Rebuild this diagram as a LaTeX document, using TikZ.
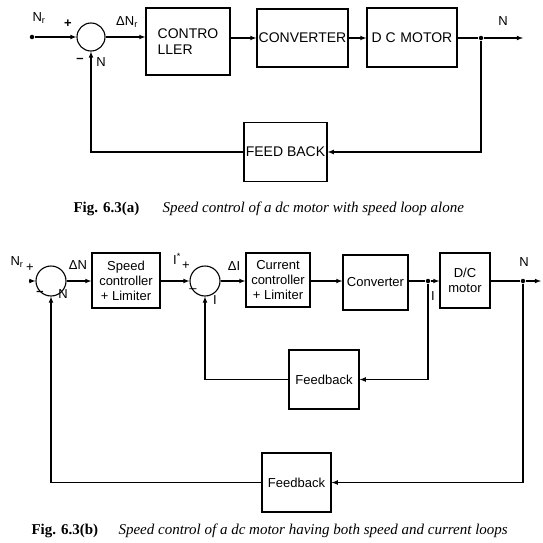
\documentclass[tikz,border=0pt]{standalone}
\usepackage{fontspec}
\setmainfont{Liberation Serif}
\setsansfont{Liberation Sans}
\usetikzlibrary{arrows}

\begin{document}
\begin{tikzpicture}[x=1pt,y=-1pt,>=latex,line width=1.1pt,
                    font=\sffamily\fontsize{13}{15}\selectfont]
                \tikzset{blk/.style={draw,line width=1.3pt,inner sep=1pt,align=center},
                         bigblk/.style={blk,font=\sffamily\fontsize{14}{16}\selectfont},
                         sum/.style={draw,circle,inner sep=0pt},
                         lbl/.style={inner sep=0pt},
                         dot/.style={circle,fill,inner sep=0pt,minimum size=4.5pt},
                         figcap/.style={inner sep=0pt,anchor=west,font=\rmfamily\fontsize{15}{17}\selectfont}}
                \useasboundingbox (0,0) rectangle (543,543);

                % Speed loop alone
                \node[dot] (in1) at (32,37) {};
                \node[sum,minimum size=28pt] (s1) at (91,37) {};
                \node[bigblk,minimum width=84pt,minimum height=67pt,align=left] (ctrl) at (188,41.5) {CONTRO\\LLER};
                \node[bigblk,minimum width=91pt,minimum height=58pt,inner sep=0pt] (conv) at (302.5,38) {CONVERTER};
                \node[bigblk,minimum width=90pt,minimum height=59pt,inner sep=0pt] (motor) at (412,37.5) {D C\,\,MOTOR};
                \node[dot] (br1) at (481,38) {};
                \coordinate (out1) at (523,38);
                \node[bigblk,minimum width=83pt,minimum height=59pt,inner sep=0pt] (fb1) at (285.5,152) {FEED BACK};

                % connectors
                \draw[->] (in1) -- (s1);
                \draw[->] (s1) -- (s1 -| ctrl.west);
                \draw[->] (ctrl.east |- conv) -- (conv);
                \draw[->] (conv) -- (motor.west |- conv);
                \draw (motor.east |- br1) -- (br1);
                \draw[->] (br1) -- (out1);
                \draw[->] (br1) |- (fb1);
                \draw[->] (fb1) -| (s1);

                % signs and signals
                \node[lbl] (nr1) at (39,18) {N\textsubscript{r}};
                \node[lbl] (p1) at (68,24) {\textbf{+}};
                \node[lbl] (m1) at (80,60) {\textbf{–}};
                \node[lbl] (n1) at (101,62) {N};
                \node[lbl] (dn1) at (127,22) {ΔN\textsubscript{r}};
                \node[lbl] (n2) at (503,21) {N};

                % Speed and current loops
                \coordinate (in2) at (29,281);
                \node[sum,minimum size=30pt] (s2) at (51,281) {};
                \node[blk,minimum width=68pt,minimum height=55pt] (spd) at (126,280.5) {Speed\\controller\\+ Limiter};
                \node[sum,minimum size=30pt] (s3) at (205,281) {};
                \node[blk,minimum width=64pt,minimum height=54pt] (cur) at (278,280) {Current\\controller\\+ Limiter};
                \node[blk,minimum width=65pt,minimum height=55pt] (cnv) at (375.5,282.5) {Converter};
                \node[dot] (br2) at (428,281) {};
                \node[blk,minimum width=50pt,minimum height=55pt] (mot) at (465,280.5) {D/C\\motor};
                \node[dot] (br3) at (523,281) {};
                \coordinate (out2) at (541,281);
                \node[blk,minimum width=70pt,minimum height=59pt] (fb2) at (324,379.5) {Feedback};
                \node[blk,minimum width=69pt,minimum height=59pt] (fb3) at (296.5,482.5) {Feedback};

                % connectors
                \draw[->] (in2) -- (s2);
                \draw[->] (s2) -- (s2 -| spd.west);
                \draw[->] (spd.east |- s3) -- (s3);
                \draw[->] (s3) -- (s3 -| cur.west);
                \draw[->] (cur.east |- br2) -- (cnv.west |- br2);
                \draw (cnv.east |- br2) -- (br2);
                \draw[->] (br2) -- (mot.west |- br2);
                \draw (mot.east |- br3) -- (br3);
                \draw[->] (br3) -- (out2);
                \draw[->] (br2) |- (fb2);
                \draw[->] (fb2) -| (s3);
                \draw[->] (br3) |- (fb3);
                \draw[->] (fb3) -| (s2);

                % signs and signals
                \node[lbl] (nr2) at (17,262) {N\textsubscript{r}};
                \node[lbl] (p2) at (30,268) {+};
                \node[lbl] (m2) at (40,293) {\textbf{–}};
                \node[lbl] (n3) at (63,294) {N};
                \node[lbl] (dn2) at (78,265) {ΔN};
                \node[lbl] (is) at (177,259) {I\textsuperscript{*}};
                \node[lbl] (p3) at (186,266) {+};
                \node[lbl] (m3) at (193,291) {–};
                \node[lbl] (i1) at (215,300) {I};
                \node[lbl] (di) at (234,266) {ΔI};
                \node[lbl] (i2) at (433,296) {I};
                \node[lbl] (n4) at (524,262) {N};

                % captions
                \node[figcap] (capa) at (73,209) {\textbf{Fig. 6.3(a)}};
                \node[figcap] (capa2) at (162,209) {\textit{Speed control of a dc motor with speed loop alone}};
                \node[figcap] (capb) at (31,531) {\textbf{Fig. 6.3(b)}};
                \node[figcap] (capb2) at (118,531) {\textit{Speed control of a dc motor having both speed and current loops}};
\end{tikzpicture}
\end{document}
